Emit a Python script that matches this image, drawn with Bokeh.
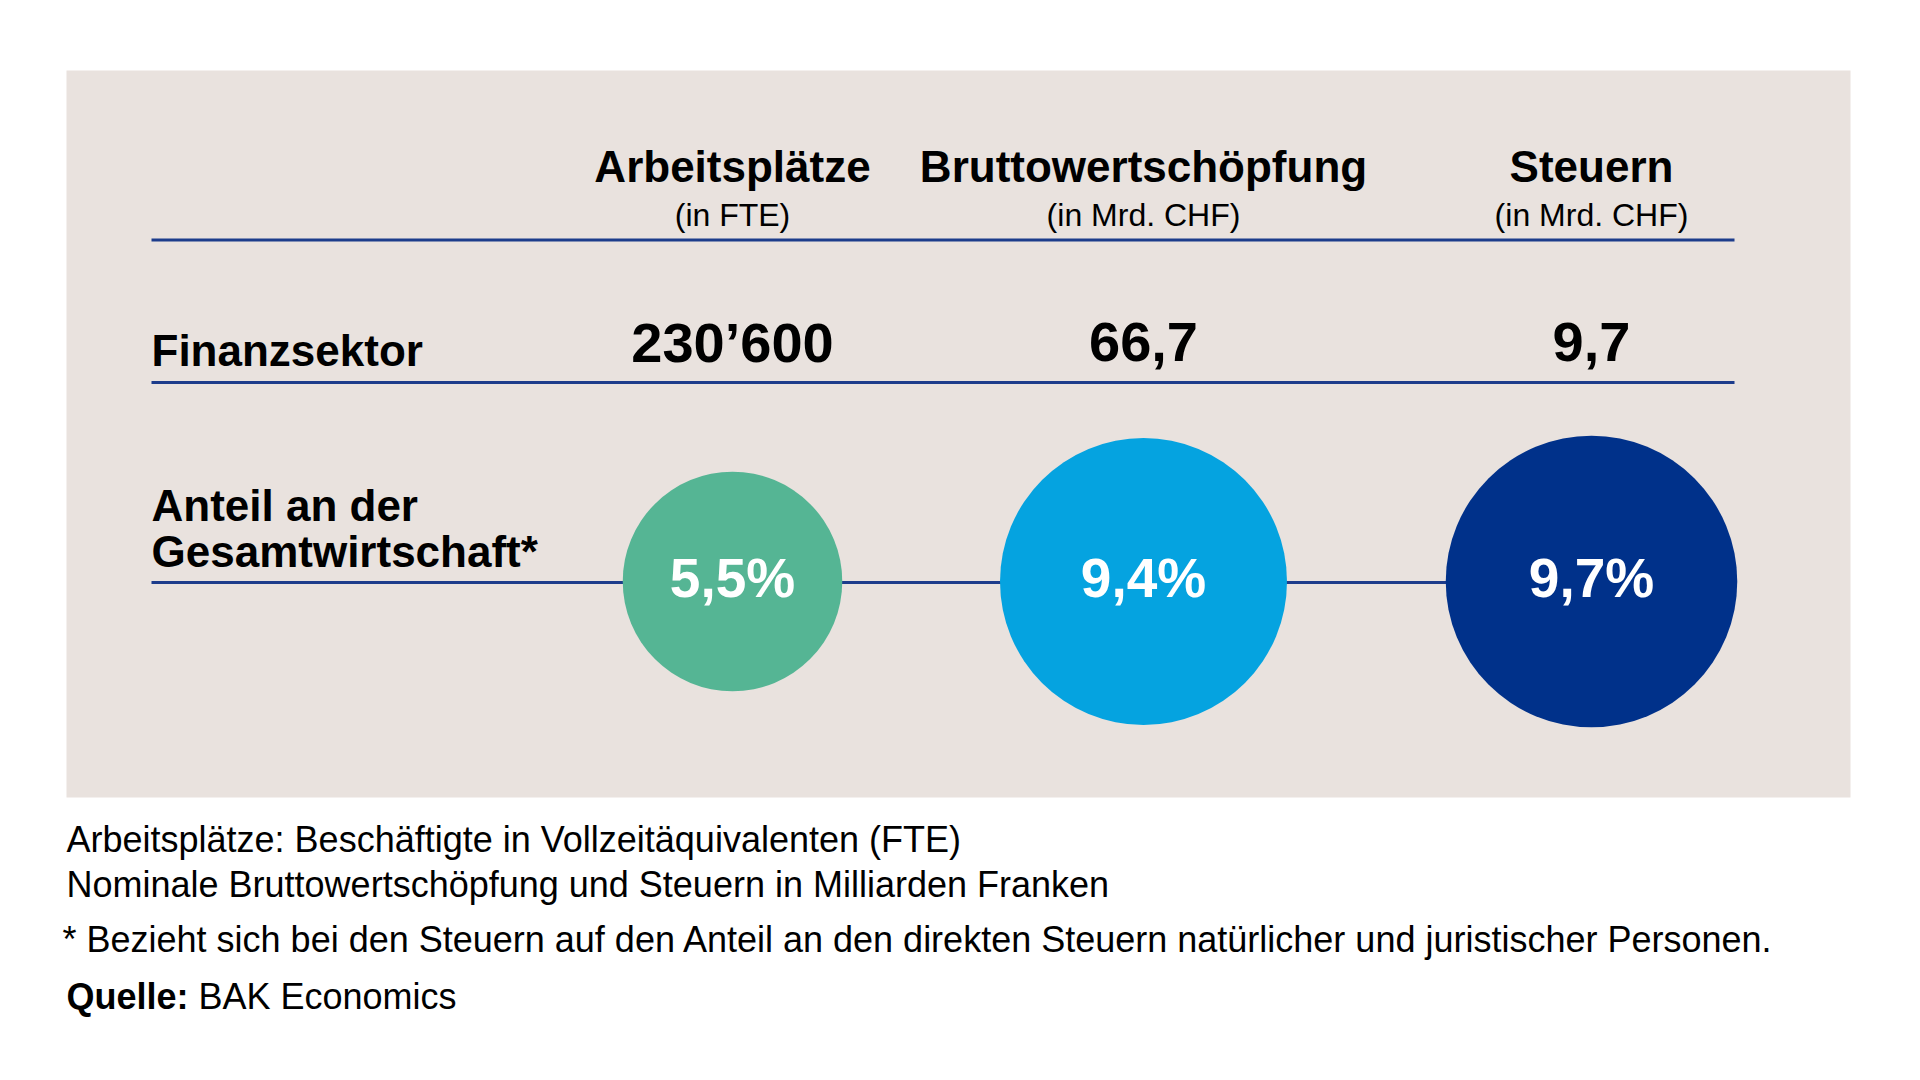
from bokeh.plotting import figure
from bokeh.models import Range1d
from bokeh.core.properties import value
from bokeh.embed import file_html
from bokeh.resources import INLINE
import math

# ---- data ----
categories = ["Arbeitsplätze", "Bruttowertschöpfung", "Steuern"]
units = ["(in FTE)", "(in Mrd. CHF)", "(in Mrd. CHF)"]
sector_values = ["230’600", "66,7", "9,7"]
shares = [5.5, 9.4, 9.7]
share_labels = ["5,5%", "9,4%", "9,7%"]
row_labels = ["Finanzsektor", "Anteil an der", "Gesamtwirtschaft*"]
notes = [
    "Arbeitsplätze: Beschäftigte in Vollzeitäquivalenten (FTE)",
    "Nominale Bruttowertschöpfung und Steuern in Milliarden Franken",
    "* Bezieht sich bei den Steuern auf den Anteil an den direkten Steuern natürlicher und juristischer Personen.",
]
source_label = "Quelle:"
source_text = "BAK Economics"

# ---- layout / style ----
FONT = value("Liberation Sans")
col_x = [732, 1143, 1591]
circle_colors = ["#55b594", "#05a3e0", "#00318a"]
line_color = "#1d3c8b"
bg_color = "#e9e2de"
K = 46.8  # radius scale (px per sqrt(percent))


def base(y, fs):
    # convert a target baseline position into the text anchor used by the renderer
    return y - 0.41 * fs + 2.7


W, H = 1904, 1064
p = figure(width=W, height=H, output_backend="svg", toolbar_location=None,
           x_range=Range1d(0, W), y_range=Range1d(H, 0),
           min_border=0, background_fill_color="white", border_fill_color="white")
p.axis.visible = False
p.xgrid.visible = False
p.ygrid.visible = False
p.outline_line_color = None

# panel background
p.quad(left=[66], right=[1850], top=[70], bottom=[797], fill_color=bg_color, line_color=None)

# horizontal rules
p.segment(x0=[151, 151, 151], x1=[1734, 1734, 1734], y0=[239.5, 382, 582], y1=[239.5, 382, 582],
          line_color=line_color, line_width=3)

# headers
p.text(x=col_x, y=[base(181, 44)] * 3, text=categories, text_font=FONT, text_font_style="bold",
       text_font_size="44px", text_align="center", text_baseline="alphabetic", text_color="black")
p.text(x=col_x, y=[base(225, 32)] * 3, text=units, text_font=FONT,
       text_font_size="32px", text_align="center", text_baseline="alphabetic", text_color="black")

# sector values
p.text(x=col_x, y=[base(362, 56)] * 3, text=sector_values, text_font=FONT, text_font_style="bold",
       text_font_size="56px", text_align="center", text_baseline="alphabetic", text_color="black")

# row labels
p.text(x=[151, 151, 151], y=[base(365, 44), base(520, 44), base(566, 44)], text=row_labels,
       text_font=FONT, text_font_style="bold",
       text_font_size="44px", text_align="left", text_baseline="alphabetic", text_color="black")

# circles (area proportional to share)
radii = [K * math.sqrt(s) for s in shares]
p.circle(x=col_x, y=[581] * 3, radius=radii, fill_color=circle_colors, line_color=None)
p.text(x=col_x, y=[base(597, 55)] * 3, text=share_labels, text_font=FONT, text_font_style="bold",
       text_font_size="55px", text_align="center", text_baseline="alphabetic", text_color="white")

# footnotes
p.text(x=[66, 66, 62], y=[base(851, 36), base(896, 36), base(951, 36)], text=notes, text_font=FONT,
       text_font_size="36px", text_align="left", text_baseline="alphabetic", text_color="black")
p.text(x=[66], y=[base(1008, 36)], text=[source_label], text_font=FONT, text_font_style="bold",
       text_font_size="36px", text_align="left", text_baseline="alphabetic", text_color="black")
p.text(x=[198], y=[base(1008, 36)], text=[source_text], text_font=FONT,
       text_font_size="36px", text_align="left", text_baseline="alphabetic", text_color="black")

open("out.html", "w").write(file_html(p, INLINE))
